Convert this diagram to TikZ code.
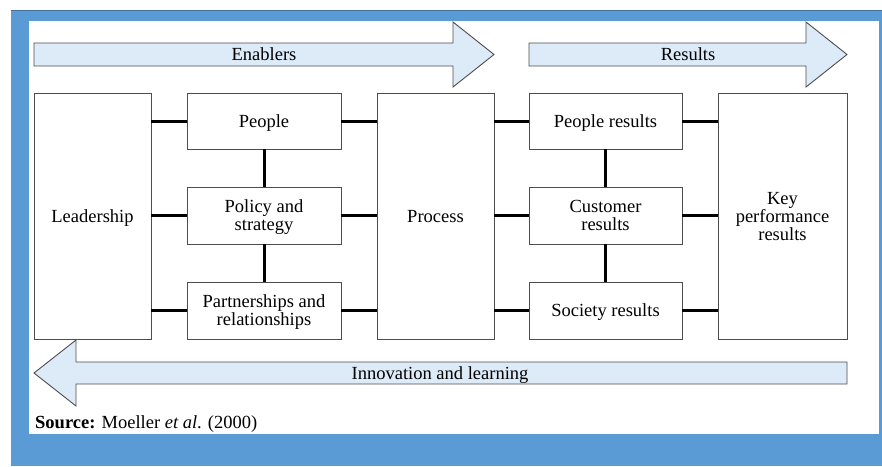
\documentclass[tikz,border=0pt]{standalone}
\usepackage{fontspec}
\setmainfont{Liberation Serif}
\usepackage{tikz}
\usetikzlibrary{calc}

\definecolor{frameblue}{HTML}{5B9BD5}
\definecolor{frameedge}{HTML}{41719C}
\definecolor{bandblue}{HTML}{DDEBF9}
\definecolor{boxline}{HTML}{4D4D4D}

\begin{document}
\begin{tikzpicture}[x=1pt,y=-1pt,
    font=\fontsize{18.5}{18}\selectfont,
    every node/.append style={text depth=-1pt},
    box/.style={draw=boxline,line width=0.9pt,fill=white,align=center,inner sep=0pt},
    band/.style={draw=boxline,line width=0.9pt,fill=bandblue},
    link/.style={line width=3pt,black}]
  \useasboundingbox (0,0) rectangle (882,466);
  % frame
  \fill[frameblue] (11,10) rectangle (882,466);
  \draw[frameedge,line width=1pt] (11,10.5) -- (882,10.5);
  \fill[white] (29,21) rectangle (879,434);

  % big arrows
  \draw[band] (34,43) -- (453,43) -- (453,22) -- (494,54.5) -- (453,87) -- (453,66) -- (34,66) -- cycle;
  \draw[band] (529,43) -- (806,43) -- (806,22) -- (847,54.5) -- (806,87) -- (806,66) -- (529,66) -- cycle;
  \draw[band] (847,362) -- (76,362) -- (76,340) -- (34,373) -- (76,406) -- (76,384) -- (847,384) -- cycle;
  \node (enab) at (264,54.5) {Enablers};
  \node (res) at (688,54.5) {Results};
  \node (innov) at (440,373) {Innovation and learning};

  % boxes
  \node[box,minimum width=117pt,minimum height=246pt] (lead) at (92.5,216) {Leadership};
  \node[box,minimum width=154pt,minimum height=56pt] (people) at (264,121) {People};
  \node[box,minimum width=154pt,minimum height=57pt] (policy) at (264,215.5) {Policy and\\strategy};
  \node[box,minimum width=154pt,minimum height=57pt] (part) at (264,310.5) {Partnerships and\\relationships};
  \node[box,minimum width=117pt,minimum height=246pt] (proc) at (435.5,216) {Process};
  \node[box,minimum width=153pt,minimum height=56pt] (pres) at (605.5,121) {People results};
  \node[box,minimum width=153pt,minimum height=57pt] (cust) at (605.5,215.5) {Customer\\results};
  \node[box,minimum width=153pt,minimum height=57pt] (soc) at (605.5,310.5) {Society results};
  \node[box,minimum width=129pt,minimum height=246pt] (key) at (782.5,216) {Key\\performance\\results};

  % links
  \foreach \a/\b in {people/policy,policy/part,pres/cust,cust/soc}
    \draw[link] (\a) -- (\b);
  \foreach \n in {people,policy,part} {
    \draw[link] (lead.east |- \n) -- (\n);
    \draw[link] (\n) -- (proc.west |- \n);
  }
  \foreach \n in {pres,cust,soc} {
    \draw[link] (proc.east |- \n) -- (\n);
    \draw[link] (\n) -- (key.west |- \n);
  }

  % source
  \node[anchor=base west,inner sep=0pt] (src) at (35,428) {\textbf{Source:} Moeller \textit{et al}. (2000)};
\end{tikzpicture}
\end{document}
